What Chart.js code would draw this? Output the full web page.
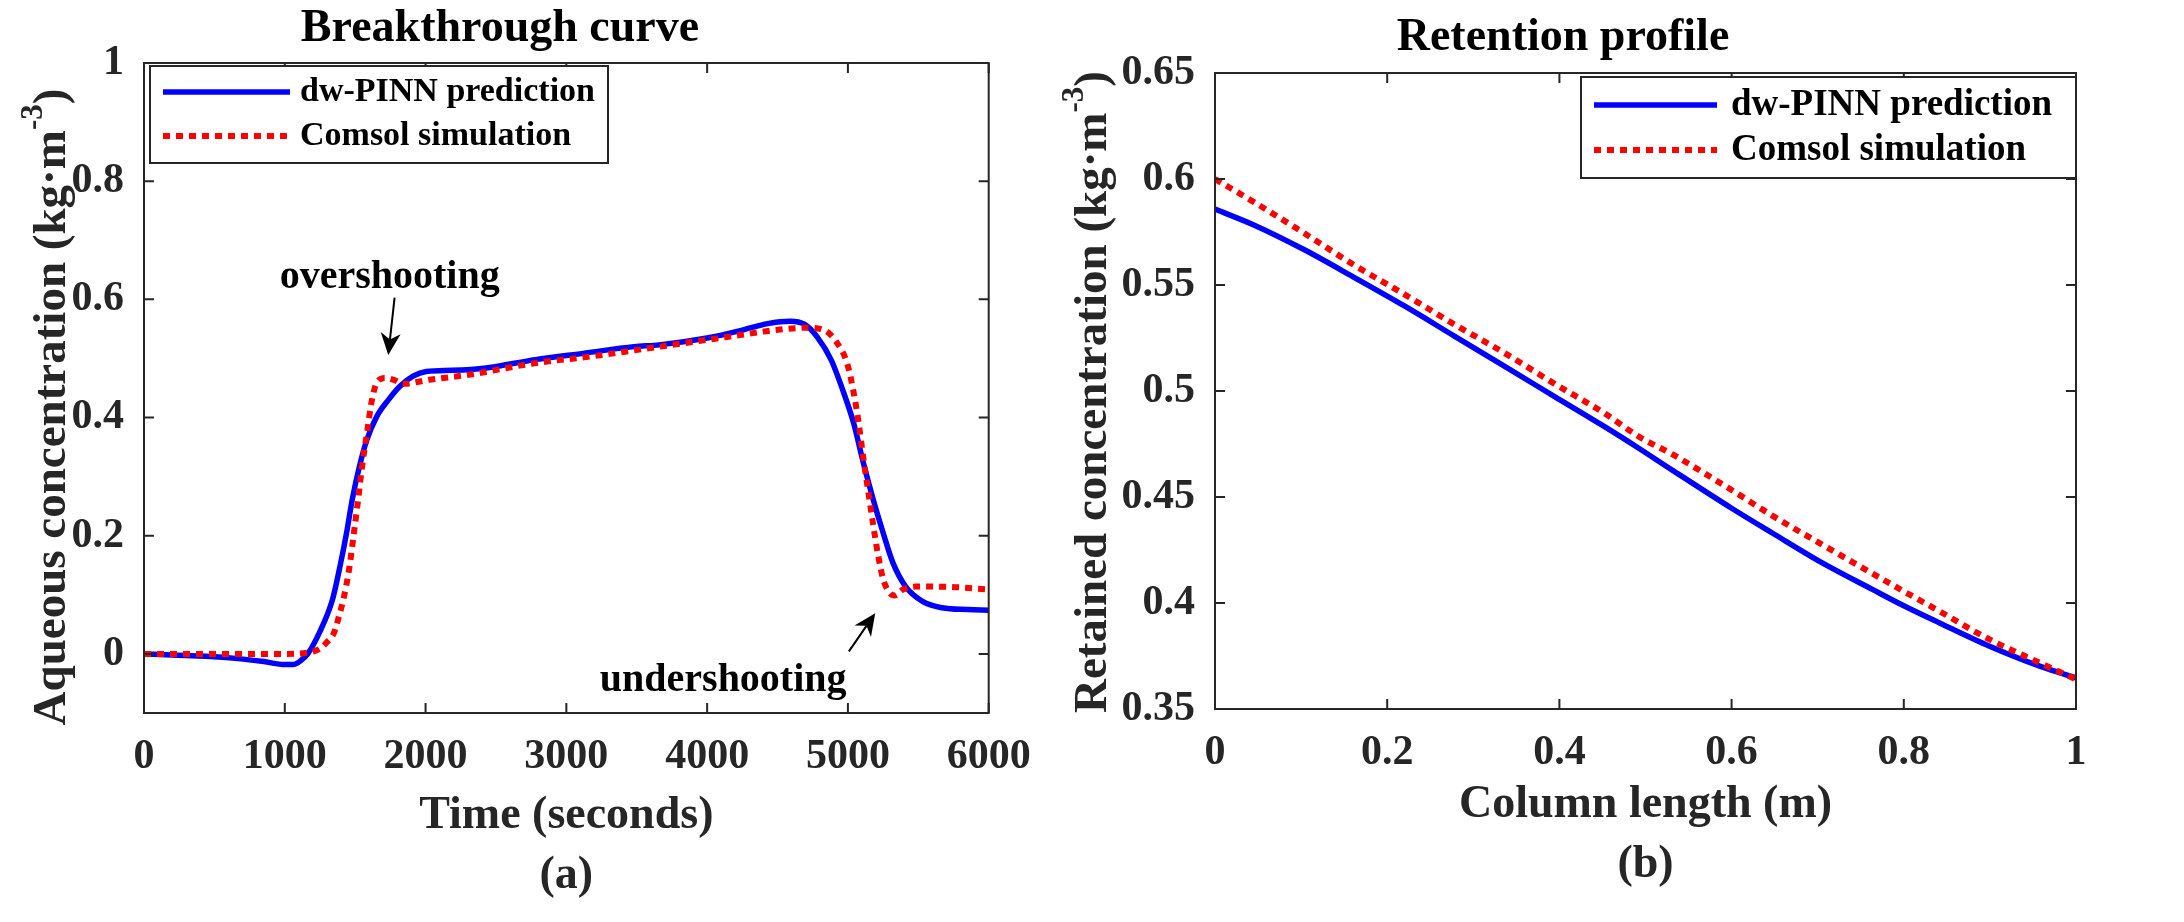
<!DOCTYPE html>
<html><head><meta charset="utf-8">
<script src="https://cdn.jsdelivr.net/npm/chart.js@4.4.1/dist/chart.umd.min.js"></script>
<style>
html,body{margin:0;padding:0;background:#fff;width:2184px;height:922px;overflow:hidden}
#wa{position:absolute;left:0;top:0;width:1050px;height:922px}
#wb{position:absolute;left:1050px;top:0;width:1134px;height:922px}
</style></head><body>
<div id="wa"><canvas id="ca"></canvas></div>
<div id="wb"><canvas id="cb"></canvas></div>
<script>
// ---------- data (a) breakthrough curve ----------
const seriesNames = ['dw-PINN prediction', 'Comsol simulation'];

const timePinnA = [0, 200, 440, 670, 850, 1000, 1060, 1110, 1163, 1245, 1339, 1392, 1439, 1479, 1530, 1584, 1654, 1736, 1818, 1911, 2005, 2190, 2430, 2780, 3130, 3480, 3660, 4010, 4250, 4430, 4590, 4690, 4780, 4880, 4970, 5040, 5110, 5180, 5250, 5320, 5410, 5530, 5670, 5850, 6000];
const pinnA = [0, -0.002, -0.004, -0.008, -0.013, -0.018, -0.018, -0.012, 0, 0.0355, 0.092, 0.148, 0.205, 0.261, 0.317, 0.363, 0.402, 0.430, 0.453, 0.470, 0.478, 0.480, 0.484, 0.498, 0.509, 0.520, 0.523, 0.535, 0.548, 0.559, 0.563, 0.558, 0.537, 0.498, 0.442, 0.391, 0.323, 0.261, 0.205, 0.154, 0.114, 0.089, 0.078, 0.075, 0.074];

const timeComsolA = [0, 500, 1000, 1186, 1250, 1300, 1350, 1385, 1416, 1460, 1491, 1521, 1549, 1584, 1619, 1654, 1713, 1783, 1841, 2027, 2307, 2775, 3195, 3663, 4013, 4247, 4480, 4714, 4831, 4924, 4994, 5041, 5076, 5111, 5146, 5181, 5216, 5251, 5298, 5333, 5391, 5484, 5765, 6000];
const comsolA = [0, 0, 0, 0.003, 0.009, 0.02, 0.036, 0.064, 0.092, 0.148, 0.205, 0.261, 0.317, 0.374, 0.430, 0.459, 0.467, 0.463, 0.457, 0.464, 0.4725, 0.492, 0.504, 0.520, 0.532, 0.540, 0.548, 0.552, 0.548, 0.526, 0.492, 0.442, 0.391, 0.329, 0.272, 0.216, 0.165, 0.126, 0.103, 0.099, 0.109, 0.114, 0.113, 0.109];

const xTicksA = [0, 1000, 2000, 3000, 4000, 5000, 6000];
const xTickLabelsA = ['0', '1000', '2000', '3000', '4000', '5000', '6000'];
const yTicksA = [0, 0.2, 0.4, 0.6, 0.8, 1];
const yTickLabelsA = ['0', '0.2', '0.4', '0.6', '0.8', '1'];

// ---------- data (b) retention profile ----------
const lengthB = [0, 0.0457, 0.1038, 0.162, 0.22, 0.278, 0.336, 0.394, 0.452, 0.4926, 0.531, 0.6, 0.6477, 0.7058, 0.764, 0.8, 0.8415, 0.8996, 0.9578, 1];
const pinnB = [0.5858, 0.5782, 0.5666, 0.5535, 0.5401, 0.5259, 0.5117, 0.4975, 0.4833, 0.4729, 0.4627, 0.4447, 0.4329, 0.4188, 0.4063, 0.3987, 0.3906, 0.3796, 0.3702, 0.3647];
const comsolB = [0.600, 0.589, 0.5744, 0.5593, 0.5456, 0.5314, 0.518, 0.5035, 0.4896, 0.4784, 0.4702, 0.4533, 0.4411, 0.4274, 0.4138, 0.4055, 0.3961, 0.3828, 0.3718, 0.364];

const xTicksB = [0, 0.2, 0.4, 0.6, 0.8, 1];
const xTickLabelsB = ['0', '0.2', '0.4', '0.6', '0.8', '1'];
const yTicksB = [0.35, 0.4, 0.45, 0.5, 0.55, 0.6, 0.65];
const yTickLabelsB = ['0.35', '0.4', '0.45', '0.5', '0.55', '0.6', '0.65'];

// annotations (positions in data units of chart a)
const notesA = [
  {text: 'overshooting', tx: 1745, ty: 0.62, from: [1780, 0.603], to: [1735, 0.506]},
  {text: 'undershooting', tx: 4114, ty: -0.062, from: [5007, 0.0044], to: [5194, 0.069]}
];

// ---------- styling ----------
const FONT = "'Liberation Serif', 'Times New Roman', Times, serif";
const AXIS_COLOR = '#262626';
const BLUE = '#0000ff';
const RED = '#ff0000';
const DASH = [7, 6];

function pts(xs, ys) { return xs.map((x, i) => ({x: x, y: ys[i]})); }

const matlabPlugin = {
  id: 'matlabDecor',
  afterDatasetsDraw(chart) {
    const o = chart.options.plugins.matlabDecor;
    const {ctx, chartArea: a, scales: {x, y}} = chart;
    ctx.save();
    // box + inward ticks
    ctx.strokeStyle = AXIS_COLOR; ctx.lineWidth = 2;
    ctx.strokeRect(a.left, a.top, a.right - a.left, a.bottom - a.top);
    const L = 10;
    ctx.beginPath();
    x.ticks.forEach(t => {
      const p = x.getPixelForValue(t.value);
      ctx.moveTo(p, a.bottom); ctx.lineTo(p, a.bottom - L);
      ctx.moveTo(p, a.top); ctx.lineTo(p, a.top + L);
    });
    y.ticks.forEach(t => {
      const p = y.getPixelForValue(t.value);
      ctx.moveTo(a.left, p); ctx.lineTo(a.left + L, p);
      ctx.moveTo(a.right, p); ctx.lineTo(a.right - L, p);
    });
    ctx.stroke();

    // annotations
    (o.notes || []).forEach(n => {
      ctx.fillStyle = '#000';
      ctx.font = 'bold ' + o.noteSize + 'px ' + FONT;
      ctx.textAlign = 'center'; ctx.textBaseline = 'alphabetic';
      ctx.fillText(n.text, x.getPixelForValue(n.tx), y.getPixelForValue(n.ty));
      const x0 = x.getPixelForValue(n.from[0]), y0 = y.getPixelForValue(n.from[1]);
      const x1 = x.getPixelForValue(n.to[0]), y1 = y.getPixelForValue(n.to[1]);
      const ang = Math.atan2(y1 - y0, x1 - x0);
      const hl = 22, hw = 10;
      const nx = x1 - Math.cos(ang) * hl * 0.7, ny = y1 - Math.sin(ang) * hl * 0.7;
      ctx.strokeStyle = '#000'; ctx.lineWidth = 2;
      ctx.beginPath(); ctx.moveTo(x0, y0); ctx.lineTo(nx, ny); ctx.stroke();
      const bx = x1 - Math.cos(ang) * hl, by = y1 - Math.sin(ang) * hl;
      const px = -Math.sin(ang) * hw, py = Math.cos(ang) * hw;
      ctx.beginPath();
      ctx.moveTo(x1, y1); ctx.lineTo(bx + px, by + py); ctx.lineTo(nx, ny); ctx.lineTo(bx - px, by - py);
      ctx.closePath(); ctx.fill();
    });

    // legend
    const lg = o.legend;
    const ds = chart.data.datasets;
    ctx.fillStyle = '#fff';
    ctx.fillRect(lg.box[0], lg.box[1], lg.box[2] - lg.box[0], lg.box[3] - lg.box[1]);
    ctx.strokeStyle = AXIS_COLOR; ctx.lineWidth = 2;
    ctx.strokeRect(lg.box[0], lg.box[1], lg.box[2] - lg.box[0], lg.box[3] - lg.box[1]);
    ds.forEach((d, i) => {
      const ry = lg.rows[i];
      ctx.beginPath();
      ctx.strokeStyle = d.borderColor; ctx.lineWidth = d.borderWidth;
      ctx.setLineDash(d.borderDash || []); ctx.lineCap = 'butt';
      ctx.moveTo(lg.line[0], ry); ctx.lineTo(lg.line[1], ry); ctx.stroke();
      ctx.setLineDash([]);
      ctx.fillStyle = '#000';
      ctx.font = 'bold ' + lg.size + 'px ' + FONT;
      ctx.textAlign = 'left'; ctx.textBaseline = 'middle';
      ctx.fillText(d.label, lg.textX, ry);
    });

    // y-axis label with superscript
    const yl = o.ylabel;
    ctx.translate(yl.x, yl.y);
    ctx.rotate(-Math.PI / 2);
    ctx.fillStyle = AXIS_COLOR;
    ctx.textBaseline = 'alphabetic'; ctx.textAlign = 'left';
    const fMain = 'bold ' + yl.size + 'px ' + FONT;
    const fSup = 'bold ' + yl.supSize + 'px ' + FONT;
    ctx.font = fMain; const w1 = ctx.measureText(yl.text).width; const w3 = ctx.measureText(yl.tail).width;
    ctx.font = fSup; const w2 = ctx.measureText(yl.sup).width;
    let cx = -(w1 + w2 + w3) / 2;
    ctx.font = fMain; ctx.fillText(yl.text, cx, 0); cx += w1;
    ctx.font = fSup; ctx.fillText(yl.sup, cx, -yl.raise); cx += w2;
    ctx.font = fMain; ctx.fillText(yl.tail, cx, 0);
    ctx.restore();
  }
};

function makeChart(id, c) {
  return new Chart(document.getElementById(id), {
    type: 'line',
    data: {
      datasets: [
        {label: seriesNames[0], data: c.blue, borderColor: BLUE, borderWidth: 5.5, pointRadius: 0,
         cubicInterpolationMode: 'monotone', fill: false, order: 2},
        {label: seriesNames[1], data: c.red, borderColor: RED, borderWidth: 6, borderDash: DASH,
         borderCapStyle: 'butt', pointRadius: 0, cubicInterpolationMode: 'monotone', fill: false, order: 1}
      ]
    },
    options: {
      responsive: true, maintainAspectRatio: false, animation: false,
      layout: {padding: {left: 0, top: 0, bottom: 0, right: c.padRight}},
      plugins: {
        legend: {display: false}, tooltip: {enabled: false},
        title: {display: true, text: c.title, color: '#000',
                font: {family: FONT, size: 46, weight: 'bold', lineHeight: 1.2},
                padding: {top: c.titlePad[0], bottom: c.titlePad[1]}},
        matlabDecor: {legend: c.legend, ylabel: c.ylabel, notes: c.notes, noteSize: 40}
      },
      scales: {
        x: {type: 'linear', min: c.xMin, max: c.xMax,
            grid: {display: false, drawTicks: false}, border: {display: false},
            afterBuildTicks: s => { s.ticks = c.xTicks.map(v => ({value: v})); },
            afterFit: s => { s.height = c.xHeight; },
            ticks: {padding: 19.3, color: AXIS_COLOR, maxRotation: 0, autoSkip: false,
                    font: {family: FONT, size: 42, weight: 'bold', lineHeight: 1.2},
                    callback: (v, i) => c.xLabels[i]},
            title: {display: true, text: c.xTitle, color: AXIS_COLOR,
                    font: {family: FONT, size: 46, weight: 'bold', lineHeight: 1.304},
                    padding: {top: 0, bottom: c.xTitlePadBottom}}},
        y: {type: 'linear', min: c.yMin, max: c.yMax,
            grid: {display: false, drawTicks: false}, border: {display: false},
            afterBuildTicks: s => { s.ticks = c.yTicks.map(v => ({value: v})); },
            afterFit: s => { s.width = c.yWidth; },
            ticks: {padding: 20, color: AXIS_COLOR, autoSkip: false,
                    font: {family: FONT, size: 42, weight: 'bold'},
                    callback: (v, i) => c.yLabels[i]}}
      }
    },
    plugins: [matlabPlugin]
  });
}

makeChart('ca', {
  title: 'Breakthrough curve', titlePad: [1.9, 5.9],
  blue: pts(timePinnA, pinnA), red: pts(timeComsolA, comsolA),
  xMin: 0, xMax: 6000, yMin: -0.1, yMax: 1,
  xTicks: xTicksA, xLabels: xTickLabelsA, yTicks: yTicksA, yLabels: yTickLabelsA,
  xTitle: ['Time (seconds)', '(a)'], xTitlePadBottom: 15.8,
  yWidth: 144, xHeight: 209, padRight: 50,
  legend: {box: [150, 66, 608, 163], line: [163, 290], textX: 300, rows: [92, 136], size: 34},
  ylabel: {text: 'Aqueous concentration (kg\u00b7m', sup: '-3', tail: ')', x: 65, y: 407, size: 47, supSize: 31, raise: 23},
  notes: notesA
});

makeChart('cb', {
  title: 'Retention profile', titlePad: [10.2, 7.6],
  blue: pts(lengthB, pinnB), red: pts(lengthB, comsolB),
  xMin: 0, xMax: 1, yMin: 0.35, yMax: 0.65,
  xTicks: xTicksB, xLabels: xTickLabelsB, yTicks: yTicksB, yLabels: yTickLabelsB,
  xTitle: ['Column length (m)', '(b)'], xTitlePadBottom: 26.5,
  yWidth: 165, xHeight: 213, padRight: 108,
  legend: {box: [531, 77, 1026, 178], line: [544, 667], textX: 681, rows: [105, 150], size: 37},
  ylabel: {text: 'Retained concentration (kg\u00b7m', sup: '-3', tail: ')', x: 56, y: 392, size: 47, supSize: 31, raise: 23},
  notes: []
});
</script>
</body></html>
